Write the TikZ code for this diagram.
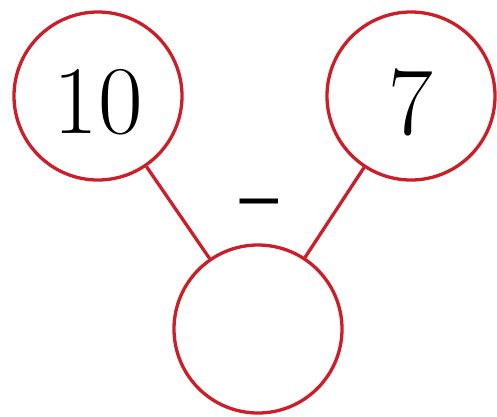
\documentclass[tikz,border=0pt]{standalone}
\usepackage{graphicx}
\definecolor{cred}{RGB}{204,30,40}
\begin{document}
\begin{tikzpicture}[x=1pt,y=-1pt,
  numc/.style={circle,draw=cred,line width=3.3pt,minimum size=168pt,inner sep=0pt},
  numt/.style={font=\fontsize{97}{100}\selectfont,inner sep=0pt},
  conn/.style={draw=cred,line width=3.3pt}]
\useasboundingbox (0,0) rectangle (497,416);
\node[numc] (a) at (98,96) {};
\node[numc] (b) at (411,96) {};
\node[numc] (c) at (258,329) {};
\node[numt] (ta) at (98,102) {10};
\node[numt] (tb) at (411,102) {7};
\node[inner sep=0pt,anchor=base] (m) at (259,284) {\scalebox{1.05}[4]{\fontsize{78}{80}\selectfont --}};
\draw[conn] (a) -- (c);
\draw[conn] (b) -- (c);
\end{tikzpicture}
\end{document}
